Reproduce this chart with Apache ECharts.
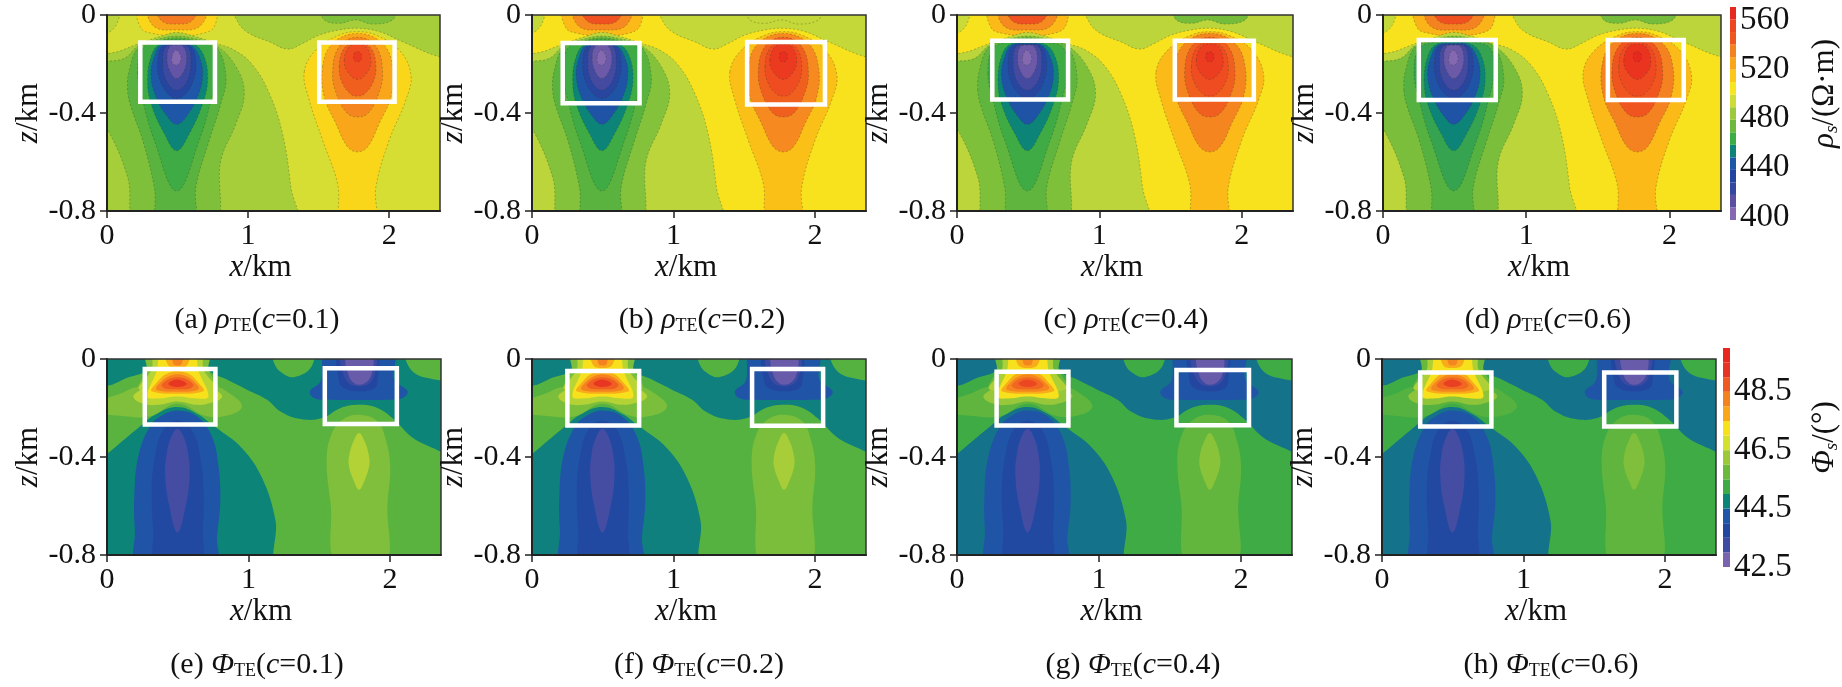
<!DOCTYPE html>
<html lang="en">
<head>
<meta charset="utf-8"/>
<title>rho / phi TE sections</title>
<script src="https://cdn.jsdelivr.net/npm/echarts@6/dist/echarts.min.js"></script>
<style>
html,body{margin:0;padding:0;background:#fff}
#main{width:1842px;height:687px}
</style>
</head>
<body>
<div id="main"></div>
<script type="text/javascript">
// axis ticks
var xTicks = [0, 1, 2];
var zTicks = [-0.8, -0.4, 0];
var xMax = 2.36;
var rhoTicks = [400, 440, 480, 520, 560];
var phiTicks = [42.5, 44.5, 46.5, 48.5];

// colour bars, bottom to top
var rhoBarColors = ['#8468b0','#5c4fa2','#34479f','#2044a0','#1f57a8','#0d8478','#3fab45','#6cb93b','#9cca3c','#cfdc38','#f7e51e','#fcc716','#f9a61a','#f58220','#f0561f','#ef4622','#e8281e'];
var rhoBarEdges = [397.5,407.7,417.9,428.1,438.3,448.5,458.7,468.9,479.1,489.3,499.5,509.7,519.9,530.1,540.3,550.5,560.7,570.9];
var phiBarColors = ['#7a62ae','#3f4ba2','#2346a0','#1f57a8','#0d8478','#3fab45','#6cb93b','#9cc93a','#d4e02e','#f7e01c','#f9a61a','#f58220','#ef5a22','#e63323','#e8281e'];
var phiBarEdges = [42.5,43,43.5,44,44.5,45,45.5,46,46.5,47,47.5,48,48.5,49,49.5,50];

// contour outlines of the rho row, flat x,z lists in km, painted in this order
var rhoShapes = [
  [-.03,.02, .08,.02, .075,-.03, .017,-.07, -.03,-.07],
  [.914,.02, .933,-.034, 1.008,-.075, 1.15,-.109, 1.28,-.139, 1.386,-.116, 1.504,-.082, 1.646,-.061, 1.776,-.054, 1.93,-.068, 2.094,-.109, 2.354,-.17, 2.47,-.17, 2.47,.02],
  [1.528,.02, 2.035,.02, 2.024,-.02, 1.882,-.037, 1.764,-.02, 1.646,-.034, 1.54,-.02],
  [.229,.02, .76,.02, .76,-.048, .678,-.075, .494,-.086, .323,-.075, .241,-.054],
  [.3,.02, .694,.02, .654,-.048, .494,-.061, .335,-.048],
  [.359,.02, .63,.02, .595,-.027, .494,-.037, .394,-.027],
  [-.1,-.198, .111,-.143, .229,-.116, .371,-.089, .494,-.071, .63,-.089, .772,-.116, .902,-.143, 1.032,-.204, 1.15,-.32, 1.244,-.484, 1.303,-.702, 1.327,-.865, -.125,-.865],
  [-.078,-.211, .123,-.177, .229,-.123, .371,-.098, .494,-.086, .63,-.098, .772,-.123, .914,-.211, .973,-.32, .914,-.443, .807,-.593, .749,-.865, .217,-.865, .146,-.661, 0,-.463, -.078,-.429],
  [.146,-.307, .158,-.225, .229,-.129, .371,-.105, .494,-.093, .63,-.105, .772,-.129, .843,-.252, .807,-.361, .725,-.511, .63,-.702, .614,-.865, .371,-.865, .335,-.702, .253,-.511, .17,-.375],
  [.217,-.238, .253,-.136, .371,-.109, .494,-.099, .619,-.109, .749,-.136, .772,-.238, .737,-.347, .654,-.511, .494,-.718, .335,-.511, .253,-.347],
  [.288,-.266, .312,-.17, .371,-.12, .494,-.109, .619,-.12, .689,-.17, .713,-.266, .678,-.361, .584,-.484, .494,-.554, .406,-.484, .312,-.361],
  [.312,-.245, .335,-.17, .383,-.123, .494,-.116, .595,-.123, .654,-.17, .678,-.245, .642,-.334, .56,-.416, .494,-.446, .43,-.416, .347,-.334],
  [.359,-.198, .39,-.129, .494,-.119, .595,-.129, .63,-.198, .612,-.266, .56,-.32, .494,-.341, .43,-.32, .375,-.266],
  [.394,-.184, .418,-.129, .494,-.123, .571,-.129, .595,-.184, .571,-.266, .494,-.307, .418,-.266],
  [.425,-.17, .446,-.129, .494,-.123, .541,-.129, .564,-.17, .548,-.225, .494,-.259, .442,-.225],
  [.46,-.17, .489,-.143, .524,-.17, .512,-.198, .489,-.204, .465,-.198],
  [1.398,-.232, 1.48,-.143, 1.646,-.082, 1.776,-.068, 1.906,-.082, 2.071,-.143, 2.154,-.245, 2.118,-.347, 2.0,-.511, 1.906,-.702, 1.894,-.865, 1.669,-.865, 1.634,-.688, 1.528,-.511, 1.433,-.347],
  [1.528,-.211, 1.599,-.116, 1.776,-.075, 1.953,-.116, 2.024,-.211, 2.012,-.334, 1.929,-.443, 1.847,-.538, 1.776,-.559, 1.705,-.538, 1.622,-.443, 1.54,-.334],
  [1.599,-.238, 1.646,-.129, 1.776,-.091, 1.906,-.129, 1.953,-.238, 1.917,-.334, 1.847,-.402, 1.776,-.416, 1.705,-.402, 1.634,-.334],
  [1.646,-.211, 1.681,-.136, 1.776,-.109, 1.87,-.136, 1.906,-.211, 1.882,-.279, 1.823,-.323, 1.776,-.331, 1.728,-.323, 1.669,-.279],
  [1.681,-.184, 1.717,-.129, 1.776,-.119, 1.835,-.129, 1.87,-.184, 1.847,-.232, 1.776,-.263, 1.705,-.232],
  [1.752,-.157, 1.776,-.15, 1.8,-.157, 1.8,-.184, 1.776,-.191, 1.752,-.184]
];

// level of each rho outline per panel, background first
var rhoBackground = [494, 503, 503, 503];
var rhoLevelsA = [488,484,476,507,522,534,484,476,468,462,452,442,430,420,410,402,507,522,531,540,548,556];
var rhoLevelsB = [490,490,490,516,530,545,488,477,468,462,452,440,428,418,408,402,514,530,540,548,556,560];
var rhoLevelsC = [491,488,474,516,530,545,488,476,469,462,452,440,428,418,408,402,516,531,540,548,555,560];
var rhoLevelsD = [490,488,474,518,532,546,488,475,467,460,452,440,428,418,408,402,516,532,543,550,558,562];

// contour outlines of the phi row
var phiShapes = [
  [-.074,-.084, 0,-.109, .138,-.078, .28,-.044, .28,.025, .717,.025, .717,-.044, .847,-.084, .989,-.125, 1.131,-.166, 1.226,-.214, 1.368,-.245, 1.521,-.241, 1.651,-.2, 1.781,-.187, 1.911,-.2, 2.03,-.248, 2.148,-.316, 2.432,-.432, 2.432,-.847, 1.226,-.847, 1.19,-.657, 1.096,-.486, .954,-.364, .765,-.278, .635,-.223, .498,-.196, .351,-.223, .233,-.275, .008,-.384, -.074,-.425],
  [-.074,-.18, .091,-.142, .233,-.112, .753,-.112, .871,-.142, .954,-.193, .871,-.228, .706,-.234, .498,-.183, .304,-.234, .091,-.232, -.074,-.213],
  [.186,-.155, .233,-.128, .327,-.098, .658,-.098, .765,-.125, .813,-.155, .73,-.18, .635,-.187, .498,-.173, .363,-.187, .257,-.183],
  [.28,.025, .717,.025, .717,-.044, .777,-.119, .233,-.119, .28,-.044],
  [.339,.025, .658,.025, .682,-.044, .765,-.125, .233,-.125, .316,-.044],
  [.387,.025, .611,.025, .647,-.05, .717,-.153, .635,-.161, .498,-.153, .363,-.161, .285,-.153, .351,-.05],
  [.316,-.132, .339,-.105, .434,-.057, .564,-.057, .658,-.105, .682,-.132, .498,-.142],
  [.422,.025, .576,.025, .564,-.027, .498,-.037, .434,-.027],
  [.356,-.128, .351,-.112, .446,-.068, .552,-.068, .647,-.112, .635,-.128, .498,-.134],
  [.465,.025, .528,.025, .528,-.019, .498,-.027, .469,-.019],
  [.387,-.105, .457,-.078, .54,-.078, .611,-.105, .587,-.12, .498,-.123, .41,-.12],
  [.434,-.102, .493,-.084, .564,-.102, .498,-.114],
  [.498,-.21, .635,-.234, .741,-.316, .788,-.439, .8,-.589, .777,-.725, .765,-.847, .221,-.847, .197,-.698, .193,-.561, .221,-.398, .304,-.275, .398,-.228],
  [.498,-.251, .599,-.289, .658,-.398, .682,-.534, .677,-.698, .654,-.847, .351,-.847, .327,-.698, .316,-.534, .339,-.398, .398,-.289],
  [.498,-.286, .545,-.323, .576,-.398, .583,-.48, .56,-.589, .498,-.708, .436,-.589, .412,-.48, .419,-.398, .45,-.323],
  [1.178,.025, 1.45,.025, 1.438,-.037, 1.32,-.074, 1.238,-.057, 1.186,-.023],
  [2.12,.025, 2.432,.025, 2.432,-.078, 2.266,-.078, 2.148,-.044],
  [1.552,.025, 2.018,.025, 2.03,-.084, 2.124,-.132, 2.089,-.159, 2.006,-.166, 1.557,-.166, 1.462,-.159, 1.434,-.132, 1.509,-.091],
  [1.64,.025, 1.9,.025, 1.911,-.091, 1.888,-.119, 1.781,-.132, 1.675,-.119, 1.64,-.091],
  [1.663,.025, 1.888,.025, 1.876,-.084, 1.781,-.112, 1.687,-.084],
  [1.698,.025, 1.864,.025, 1.864,-.071, 1.781,-.105, 1.71,-.071],
  [1.781,-.228, 1.911,-.255, 1.97,-.33, 2.001,-.439, 1.982,-.589, 1.959,-.847, 1.627,-.847, 1.58,-.589, 1.552,-.425, 1.58,-.316, 1.663,-.248],
  [1.781,-.302, 1.821,-.337, 1.852,-.398, 1.852,-.439, 1.817,-.5, 1.781,-.534, 1.746,-.5, 1.71,-.439, 1.71,-.398, 1.741,-.337]
];

var phiBackground = [44.75, 44.7, 44.55, 44.55];
var phiLevelsE = [45.55,45.95,46.5,45.95,46.5,47.25,47.7,47.7,48.25,48.25,48.7,49.2,44.15,43.85,43.2,45.55,45.55,44.15,43.75,43.3,42.9,45.95,46.45];
var phiLevelsF = [45.5,45.9,46.45,45.9,46.5,47.25,47.7,47.7,48.25,48.25,48.7,49.2,44.15,43.85,43.2,45.5,45.5,44.15,43.75,43.3,42.9,45.9,46.35];
var phiLevelsG = [45.25,45.6,46.2,45.7,46.4,47.25,47.7,47.7,48.2,48.2,48.6,49.0,44.15,43.85,43.2,45.25,45.25,44.15,43.75,43.3,42.9,45.65,46.05];
var phiLevelsH = [45.25,45.5,46.1,45.7,46.4,47.25,47.7,47.7,48.2,48.2,48.6,49.1,44.15,43.85,43.2,45.25,45.25,44.15,43.75,43.3,42.9,45.6,45.95];

// white rectangles: x0,z0,x1,z1
var boxesA = [[.236,-.112,.765,-.354],[1.504,-.112,2.038,-.354]];
var boxesB = [[.217,-.114,.76,-.36],[1.52,-.11,2.07,-.365]];
var boxesC = [[.248,-.105,.78,-.345],[1.53,-.105,2.085,-.345]];
var boxesD = [[.25,-.102,.787,-.347],[1.57,-.102,2.1,-.347]];
var boxesE = [[.267,-.041,.766,-.267],[1.539,-.038,2.048,-.265]];
var boxesF = [[.25,-.049,.757,-.271],[1.555,-.041,2.057,-.272]];
var boxesG = [[.279,-.052,.785,-.271],[1.546,-.045,2.057,-.27]];
var boxesH = [[.27,-.055,.773,-.275],[1.57,-.055,2.08,-.275]];

var captions = ['(a) ','(b) ','(c) ','(d) ','(e) ','(f) ','(g) ','(h) '];
var cValues = ['0.1','0.2','0.4','0.6','0.1','0.2','0.4','0.6'];
var captionX = [252,697,1121,1543,252,694,1128,1546];

var serif = '"Liberation Serif","Times New Roman",serif';
var black = '#111';

function rampColor(colors, lo, hi, v) {
  var t = Math.max(0, Math.min(1, (v - lo) / (hi - lo)));
  return echarts.color.lerp(t, colors);
}
function rhoColor(v) { return rampColor(rhoBarColors, 402, 562, v); }
function phiColor(v) { return rampColor(phiBarColors, 42.75, 49.75, v); }

var panels = [
  {left:107, right:440, top:15, bottom:211, shapes:rhoShapes, levels:rhoLevelsA, bg:rhoBackground[0], boxes:boxesA, color:rhoColor, dash:true},
  {left:532, right:866, top:15, bottom:211, shapes:rhoShapes, levels:rhoLevelsB, bg:rhoBackground[1], boxes:boxesB, color:rhoColor, dash:true},
  {left:957, right:1293, top:15, bottom:211, shapes:rhoShapes, levels:rhoLevelsC, bg:rhoBackground[2], boxes:boxesC, color:rhoColor, dash:true},
  {left:1383, right:1721, top:15, bottom:211, shapes:rhoShapes, levels:rhoLevelsD, bg:rhoBackground[3], boxes:boxesD, color:rhoColor, dash:true},
  {left:107, right:441, top:359, bottom:555, shapes:phiShapes, levels:phiLevelsE, bg:phiBackground[0], boxes:boxesE, color:phiColor},
  {left:532, right:866, top:359, bottom:555, shapes:phiShapes, levels:phiLevelsF, bg:phiBackground[1], boxes:boxesF, color:phiColor},
  {left:957, right:1292, top:359, bottom:555, shapes:phiShapes, levels:phiLevelsG, bg:phiBackground[2], boxes:boxesG, color:phiColor},
  {left:1382, right:1716, top:359, bottom:555, shapes:phiShapes, levels:phiLevelsH, bg:phiBackground[3], boxes:boxesH, color:phiColor}
];

var nameRich = {
  i: {fontFamily: serif, fontStyle: 'italic', fontSize: 31, color: black},
  n: {fontFamily: serif, fontSize: 31, color: black},
  s: {fontFamily: serif, fontStyle: 'italic', fontSize: 19, color: black, verticalAlign: 'bottom', padding: [14, 0, 0, 0]}
};

var option = {animation: false, backgroundColor: '#fff', title: [], grid: [], xAxis: [], yAxis: [], series: []};

panels.forEach(function (p, n) {
  option.grid.push({
    left: p.left, top: p.top, width: p.right - p.left, height: p.bottom - p.top,
    show: true, backgroundColor: p.color(p.bg), borderWidth: 0
  });
  option.xAxis.push({
    gridIndex: n, type: 'value', min: 0, max: xMax, z: 5,
    name: '{i|x}{n|/km}', nameLocation: 'middle', nameGap: 38,
    nameTextStyle: {rich: nameRich, padding: [0, 26, 0, 0]},
    axisLine: {onZero: false, lineStyle: {color: '#222', width: 2}},
    axisTick: {customValues: xTicks, length: 7, lineStyle: {color: '#222', width: 1.5}},
    axisLabel: {customValues: xTicks, margin: 10, fontFamily: serif, fontSize: 30, color: black, formatter: function (v) { return String(v); }},
    splitLine: {show: false}
  });
  option.yAxis.push({
    gridIndex: n, type: 'value', min: -0.8, max: 0, z: 5,
    name: '{i|z}{n|/km}', nameLocation: 'middle', nameGap: 58,
    nameTextStyle: {rich: nameRich},
    axisLine: {onZero: false, lineStyle: {color: '#222', width: 2}},
    axisTick: {customValues: zTicks, length: 7, lineStyle: {color: '#222', width: 1.5}},
    axisLabel: {customValues: zTicks, margin: 11, fontFamily: serif, fontSize: 30, color: black, formatter: function (v) { return v === 0 ? '0' : v.toFixed(1); }},
    splitLine: {show: false}
  });
  // filled contours
  option.series.push({
    type: 'custom', xAxisIndex: n, yAxisIndex: n, clip: true, silent: true,
    data: p.levels.map(function (lv, i) { return [i, lv]; }),
    encode: {x: 0, y: 1},
    renderItem: function (params, api) {
      var flat = p.shapes[api.value(0)], pts = [];
      for (var k = 0; k < flat.length; k += 2) pts.push(api.coord([flat[k], flat[k + 1]]));
      return {
        type: 'polygon',
        shape: {points: pts, smooth: 0.4},
        style: p.dash
          ? {fill: p.color(api.value(1)), stroke: 'rgba(40,60,30,0.3)', lineWidth: 1, lineDash: [2, 2]}
          : {fill: p.color(api.value(1))}
      };
    }
  });
  // white rectangles and frame
  option.series.push({
    type: 'custom', xAxisIndex: n, yAxisIndex: n, clip: false, silent: true, z: 4,
    data: p.boxes.concat([[0, 0, xMax, -0.8]]),
    encode: {x: 0, y: 1},
    renderItem: function (params, api) {
      var a = api.coord([api.value(0), api.value(1)]);
      var b = api.coord([api.value(2), api.value(3)]);
      var isFrame = params.dataIndex === p.boxes.length;
      return {
        type: 'rect',
        shape: {x: a[0], y: a[1], width: b[0] - a[0], height: b[1] - a[1]},
        style: {fill: 'none', stroke: isFrame ? '#333' : '#fff', lineWidth: isFrame ? 1.5 : 4.5}
      };
    }
  });
  option.title.push({
    text: captions[n] + '{g|' + (n < 4 ? '\u03c1' : '\u03a6') + '}{s|TE}({c|c}=' + cValues[n] + ')',
    left: captionX[n], top: n < 4 ? 300 : 645, textAlign: 'center',
    textStyle: {
      fontFamily: serif, fontSize: 30, fontWeight: 'normal', color: black,
      rich: {
        g: {fontFamily: serif, fontStyle: 'italic', fontSize: 30, color: black},
        c: {fontFamily: serif, fontStyle: 'italic', fontSize: 30, color: black},
        s: {fontFamily: serif, fontSize: 18, color: black, verticalAlign: 'bottom', padding: [12, 0, 0, 0]}
      }
    }
  });
});

function addColorBar(left, top, bottom, lo, hi, ticks, colors, edges, nameText, gap, decimals) {
  var n = option.grid.length;
  option.grid.push({left: left, top: top, width: 16, height: bottom - top});
  option.xAxis.push({gridIndex: n, type: 'value', min: 0, max: 1, show: false});
  option.yAxis.push({
    gridIndex: n, type: 'value', min: lo, max: hi, position: 'right',
    name: nameText, nameLocation: 'middle', nameRotate: 90, nameGap: gap,
    nameTextStyle: {rich: nameRich, padding: [0, 0, 0, 40]},
    axisLine: {show: false}, axisTick: {show: false},
    axisLabel: {customValues: ticks, margin: 4, fontFamily: serif, fontSize: 33, color: black, formatter: function (v) { return v.toFixed(decimals); }},
    splitLine: {show: false}
  });
  option.series.push({
    type: 'custom', xAxisIndex: n, yAxisIndex: n, silent: true,
    data: colors.map(function (c, i) { return [i, edges[i], edges[i + 1]]; }),
    encode: {y: [1, 2]},
    renderItem: function (params, api) {
      var a = api.coord([0, api.value(2)]);
      var b = api.coord([1, api.value(1)]);
      return {
        type: 'rect',
        shape: {x: a[0], y: a[1], width: b[0] - a[0], height: b[1] - a[1]},
        style: {fill: colors[api.value(0)]}
      };
    }
  });
}
addColorBar(1730, 7, 220, 397.5, 570.9, rhoTicks, rhoBarColors, rhoBarEdges, '{i|\u03c1}{s|s}{n|/(\u03a9\u00b7m)}', 72, 0);
addColorBar(1723, 348, 567, 42.5, 50, phiTicks, phiBarColors, phiBarEdges, '{i|\u03a6}{s|s}{n|/(\u00b0)}', 78, 1);

var chart = echarts.init(document.getElementById('main'));
chart.setOption(option);
</script>
</body>
</html>
